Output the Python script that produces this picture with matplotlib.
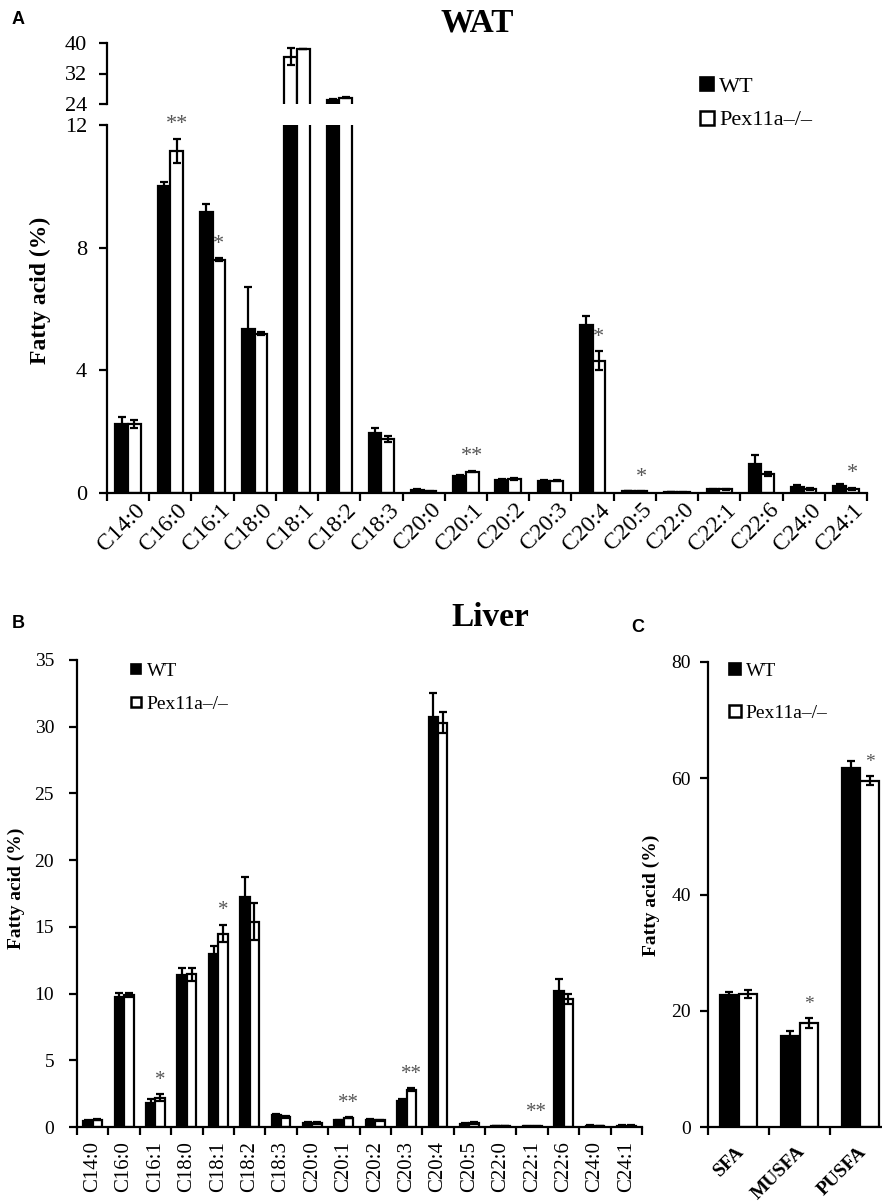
import matplotlib
matplotlib.use("Agg")
import matplotlib.pyplot as plt
from matplotlib.lines import Line2D
from matplotlib.transforms import ScaledTranslation
import numpy as np

plt.rcParams['font.family'] = ['Liberation Serif', 'DejaVu Serif']

fatty = ["C14:0", "C16:0", "C16:1", "C18:0", "C18:1", "C18:2", "C18:3", "C20:0", "C20:1",
         "C20:2", "C20:3", "C20:4", "C20:5", "C22:0", "C22:1", "C22:6", "C24:0", "C24:1"]

# WAT
wat_wt = [2.24, 10.0, 9.17, 5.36, 36.4, 25.1, 1.96, 0.10, 0.57, 0.43, 0.38, 5.47, 0.06, 0.03, 0.12, 0.95, 0.20, 0.22]
wat_wt_err = [0.25, 0.14, 0.27, 1.37, 2.3, 0.1, 0.15, 0.03, 0.03, 0.03, 0.03, 0.29, 0.01, 0.01, 0.02, 0.28, 0.06, 0.06]
wat_ko = [2.24, 11.15, 7.6, 5.2, 38.3, 25.7, 1.76, 0.05, 0.70, 0.47, 0.40, 4.32, 0.05, 0.02, 0.12, 0.62, 0.13, 0.14]
wat_ko_err = [0.13, 0.4, 0.05, 0.05, 0.0, 0.1, 0.1, 0.01, 0.03, 0.03, 0.02, 0.31, 0.01, 0.01, 0.02, 0.05, 0.02, 0.03]
wat_sig = {1: "**", 2: "*", 8: "**", 11: "*", 12: "*", 17: "*"}

# Liver
liv_wt = [0.45, 9.75, 1.8, 11.42, 13.0, 17.25, 0.88, 0.3, 0.5, 0.55, 1.92, 30.76, 0.25, 0.08, 0.05, 10.2, 0.1, 0.1]
liv_wt_err = [0.05, 0.3, 0.3, 0.5, 0.6, 1.5, 0.12, 0.05, 0.05, 0.05, 0.2, 1.8, 0.05, 0.02, 0.02, 0.9, 0.02, 0.02]
liv_ko = [0.55, 9.87, 2.2, 11.45, 14.5, 15.4, 0.75, 0.3, 0.7, 0.5, 2.8, 30.3, 0.3, 0.08, 0.05, 9.6, 0.08, 0.1]
liv_ko_err = [0.05, 0.15, 0.25, 0.5, 0.65, 1.4, 0.1, 0.05, 0.05, 0.05, 0.1, 0.8, 0.05, 0.02, 0.02, 0.35, 0.02, 0.02]
liv_sig = {2: "*", 4: "*", 8: "**", 10: "**", 14: "**"}

# Liver totals
groups = ["SFA", "MUSFA", "PUSFA"]
grp_wt = [22.7, 15.6, 61.7]
grp_wt_err = [0.5, 1.0, 1.2]
grp_ko = [22.9, 17.9, 59.6]
grp_ko_err = [0.7, 0.8, 0.8]
grp_sig = {1: "*", 2: "*"}

labels = ["WT", "Pex11a\u2013/\u2013"]

W, H = 882, 1204
fig = plt.figure(figsize=(W / 100, H / 100), dpi=100)
LW = 1.6


def box(l, t, r, b):
    return [l / W, 1 - b / H, (r - l) / W, (b - t) / H]


def pairs(ax, wt, wt_err, ko, ko_err, w=0.3, idx=None, wt_face='black'):
    if idx is None:
        idx = list(range(len(wt)))
    x = np.array(idx) + 0.5
    wt = [wt[i] for i in idx]
    ko = [ko[i] for i in idx]
    we = [wt_err[i] for i in idx]
    ke = [ko_err[i] for i in idx]
    ax.bar(x - w / 2, wt, w, color=wt_face, edgecolor='black', linewidth=LW)
    ax.bar(x + w / 2, ko, w, color='white', edgecolor='black', linewidth=LW)
    ax.errorbar(x - w / 2, wt, yerr=we, fmt='none', ecolor='black', elinewidth=LW, capsize=3, capthick=LW)
    ax.errorbar(x + w / 2, ko, yerr=ke, fmt='none', ecolor='black', elinewidth=LW, capsize=3, capthick=LW)


def style(ax, cats, ylim, yticks, yfs, ypad):
    n = len(cats)
    ax.set_xlim(0, n)
    ax.set_ylim(*ylim)
    ax.set_yticks(yticks)
    for s in ['top', 'right']:
        ax.spines[s].set_visible(False)
    for s in ['left', 'bottom']:
        ax.spines[s].set_linewidth(LW)
    ax.tick_params(axis='both', which='major', direction='out', length=5.5, width=LW)
    ax.tick_params(axis='y', labelsize=yfs, pad=ypad)
    ax.set_xticks(np.arange(n + 1))
    ax.set_xticklabels([])
    ax.set_xticks(np.arange(n) + 0.5, minor=True)
    ax.tick_params(axis='x', which='minor', length=0)


def stars(ax, sig, ko, ko_err, fs, up, w=0.3):
    for i, s in sig.items():
        ax.annotate(s, (i + 0.5 + w / 2, ko[i] + ko_err[i]), xytext=(0, up),
                    textcoords='offset points', ha='center', va='center',
                    fontsize=fs, color='#555555', annotation_clip=False)


def shift(ax, dx_px, dy_px=0):
    off = ScaledTranslation(dx_px / 100, dy_px / 100, fig.dpi_scale_trans)
    for lbl in ax.get_xticklabels(which='minor'):
        lbl.set_transform(lbl.get_transform() + off)


def legend(anchor, fs, ms, spacing):
    h = [Line2D([], [], marker='s', ls='none', mfc='black', mec='black', ms=ms, mew=1.2),
         Line2D([], [], marker='s', ls='none', mfc='white', mec='black', ms=ms, mew=1.8)]
    fig.legend(h, labels, loc='upper left', bbox_to_anchor=anchor, frameon=False,
               fontsize=fs, handlelength=0.6, handletextpad=0.25, labelspacing=spacing,
               borderpad=0, borderaxespad=0)


# ---- A: WAT (broken axis) ----
axA = fig.add_axes(box(107, 125, 867, 493))
pairs(axA, wat_wt, wat_wt_err, wat_ko, wat_ko_err)
style(axA, fatty, (0, 12), [0, 4, 8, 12], 16, 9)
axA.set_xticklabels(fatty, minor=True, rotation=45, ha='right', va='center',
                    rotation_mode='anchor', fontsize=17)
axA.tick_params(axis='x', which='minor', pad=10)
shift(axA, 14)
stars(axA, wat_sig, wat_ko, wat_ko_err, 16, 10)

axT = fig.add_axes(box(107, 43, 867, 104))
big = [i for i, v in enumerate(wat_wt) if v > 12]
pairs(axT, wat_wt, wat_wt_err, wat_ko, wat_ko_err, idx=big[:1], wt_face='white')
pairs(axT, wat_wt, wat_wt_err, wat_ko, wat_ko_err, idx=big[1:])
style(axT, fatty, (24, 40), [24, 32, 40], 16, 9)
axT.spines['bottom'].set_visible(False)
axT.tick_params(axis='x', which='both', length=0)
axT.set_xticklabels([], minor=True)

fig.text(40 / W, 1 - 290 / H, "Fatty acid (%)", rotation=90, fontsize=17, weight='bold',
         ha='center', va='center')
fig.text(477 / W, 1 - 23 / H, "WAT", fontsize=24, weight='bold', ha='center', va='center')
fig.text(18 / W, 1 - 20 / H, "A", family='Liberation Sans', fontsize=13, weight='bold',
         ha='center', va='center')
legend((700 / W, 1 - 76 / H), 16, 9.5, 0.6)

# ---- B: Liver ----
axB = fig.add_axes(box(77, 660, 642, 1127))
pairs(axB, liv_wt, liv_wt_err, liv_ko, liv_ko_err)
style(axB, fatty, (0, 35), [0, 5, 10, 15, 20, 25, 30, 35], 14, 11)
axB.set_xticklabels(fatty, minor=True, rotation=90, fontsize=15)
axB.tick_params(axis='x', which='minor', pad=10)
stars(axB, liv_sig, liv_ko, liv_ko_err, 15, 10)
fig.text(16 / W, 1 - 888 / H, "Fatty acid (%)", rotation=90, fontsize=14, weight='bold',
         ha='center', va='center')
fig.text(490 / W, 1 - 618 / H, "Liver", fontsize=24, weight='bold', ha='center', va='center')
fig.text(18 / W, 1 - 623 / H, "B", family='Liberation Sans', fontsize=13, weight='bold',
         ha='center', va='center')
legend((130 / W, 1 - 662 / H), 14, 7.5, 0.8)

# ---- C: totals ----
axC = fig.add_axes(box(708, 662, 891, 1127))
pairs(axC, grp_wt, grp_wt_err, grp_ko, grp_ko_err)
style(axC, groups, (0, 80), [0, 20, 40, 60, 80], 14, 7)
axC.set_xticklabels(groups, minor=True, rotation=45, ha='right', va='center',
                    rotation_mode='anchor', fontsize=14, weight='bold')
axC.tick_params(axis='x', which='minor', pad=16)
shift(axC, 3)
stars(axC, grp_sig, grp_ko, grp_ko_err, 14, 10)
fig.text(651 / W, 1 - 895 / H, "Fatty acid (%)", rotation=90, fontsize=14, weight='bold',
         ha='center', va='center')
fig.text(638 / W, 1 - 627 / H, "C", family='Liberation Sans', fontsize=13, weight='bold',
         ha='center', va='center')
legend((729 / W, 1 - 662 / H), 14, 8, 1.25)

fig.savefig("out.png", dpi=100)
